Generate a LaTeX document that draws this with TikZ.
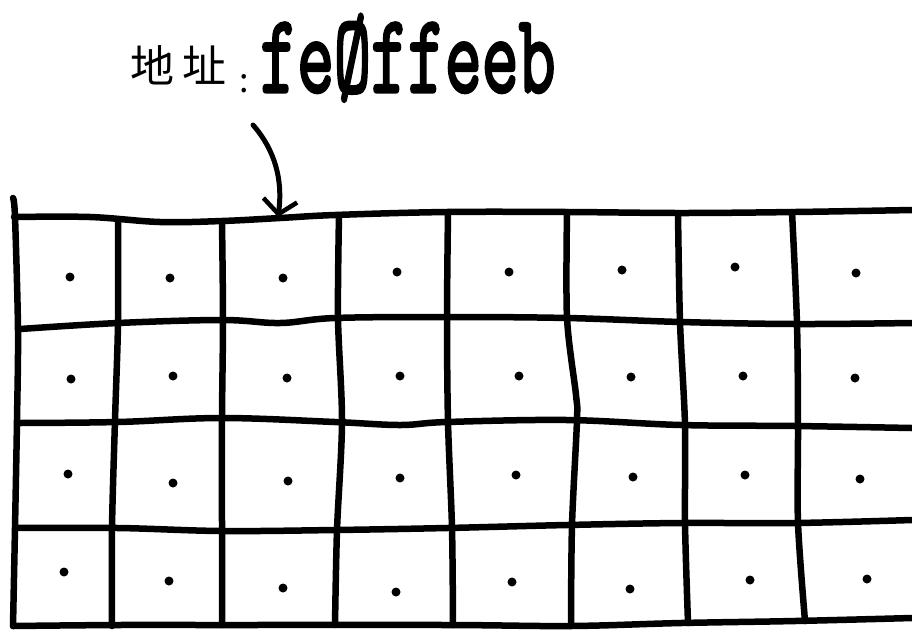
\documentclass[tikz,border=0pt]{standalone}
\usepackage{fontspec}
\newfontfamily\cjkfont{Noto Sans CJK SC}
\newfontfamily\addrfont[FakeBold=3]{Latin Modern Mono}
\usetikzlibrary{arrows.meta}
\tikzset{
  gridline/.style={line width=6.5pt, line cap=round, line join=round, black},
  celldot/.style={fill=black},
  arrowline/.style={line width=5pt, line cap=round, -{Straight Barb[length=14pt,width=34pt,line width=4.5pt]}},
}
\begin{document}
\begin{tikzpicture}[x=1pt,y=-1pt]
\useasboundingbox (0,0) rectangle (912,630);
\fill[white] (0,0) rectangle (912,630);
% horizontal lines
\draw[gridline] plot[smooth,tension=0.6] coordinates {(14,217) (90,217) (160,222) (222,221) (280,218) (335,215) (447,212) (567,212) (681,213) (795,212) (912,210)};
\draw[gridline] plot[smooth,tension=0.6] coordinates {(20,329) (118,323) (222,320) (280,323) (335,318) (447,317) (567,318) (681,322) (795,324) (912,323)};
\draw[gridline] plot[smooth,tension=0.6] coordinates {(18,423) (118,422) (222,418) (335,422) (400,425) (447,422) (567,420) (681,425) (795,426) (912,428)};
\draw[gridline] plot[smooth,tension=0.6] coordinates {(15,528) (118,528) (222,531) (335,530) (447,528) (567,525) (681,523) (795,523) (912,520)};
\draw[gridline] plot[smooth,tension=0.6] coordinates {(13,626) (118,625) (222,625) (447,625) (570,626) (681,623) (795,621) (912,618)};
% vertical lines
\draw[gridline] plot[smooth,tension=0.5] coordinates {(13,198) (15,217) (18,330) (17,420) (15,528) (13,626)};
\draw[gridline] plot[smooth,tension=0.5] coordinates {(118,222) (118,323) (115,420) (112,528) (112,626)};
\draw[gridline] plot[smooth,tension=0.5] coordinates {(222,222) (223,320) (222,418) (222,530) (222,625)};
\draw[gridline] plot[smooth,tension=0.5] coordinates {(339,215) (338,318) (342,422) (337,530) (335,625)};
\draw[gridline] plot[smooth,tension=0.5] coordinates {(448,212) (447,317) (448,422) (452,528) (453,625)};
\draw[gridline] plot[smooth,tension=0.5] coordinates {(567,212) (567,318) (576,395) (577,420) (572,525) (571,626)};
\draw[gridline] plot[smooth,tension=0.5] coordinates {(678,213) (680,322) (685,425) (685,523) (688,623)};
\draw[gridline] plot[smooth,tension=0.5] coordinates {(792,212) (797,324) (798,426) (798,523) (805,621)};
% dots
\foreach \p in {(70,277),(170,278),(283,278),(397,272),(509,272),(622,270),(735,267),(856,273),
                (71,379),(173,376),(287,378),(400,376),(519,376),(631,377),(743,376),(855,378),
                (68,474),(173,483),(288,481),(400,478),(516,475),(633,477),(745,475),(860,479),
                (64,572),(169,581),(283,588),(396,592),(512,582),(630,589),(750,580),(867,579)}
  \fill[celldot] \p circle (4.5);
% label
\node[anchor=base west, inner sep=0pt] (cjk) at (130,82) {\cjkfont\fontsize{44}{44}\selectfont 地\hspace{8pt}址};
\node[anchor=base west, inner sep=0pt] (colon) at (239,92) {\cjkfont\fontsize{34}{34}\selectfont :};
\node[anchor=base west, inner sep=0pt] (addr) at (260,92) {\scalebox{0.64}[1]{\addrfont\fontsize{112}{112}\selectfont feØffeeb}};
% arrow
\coordinate (arrS) at (253,125);
\coordinate (arrE) at (278,217);
\draw[arrowline] (arrS) .. controls (275,150) and (283,180) .. (arrE);
\end{tikzpicture}
\end{document}
